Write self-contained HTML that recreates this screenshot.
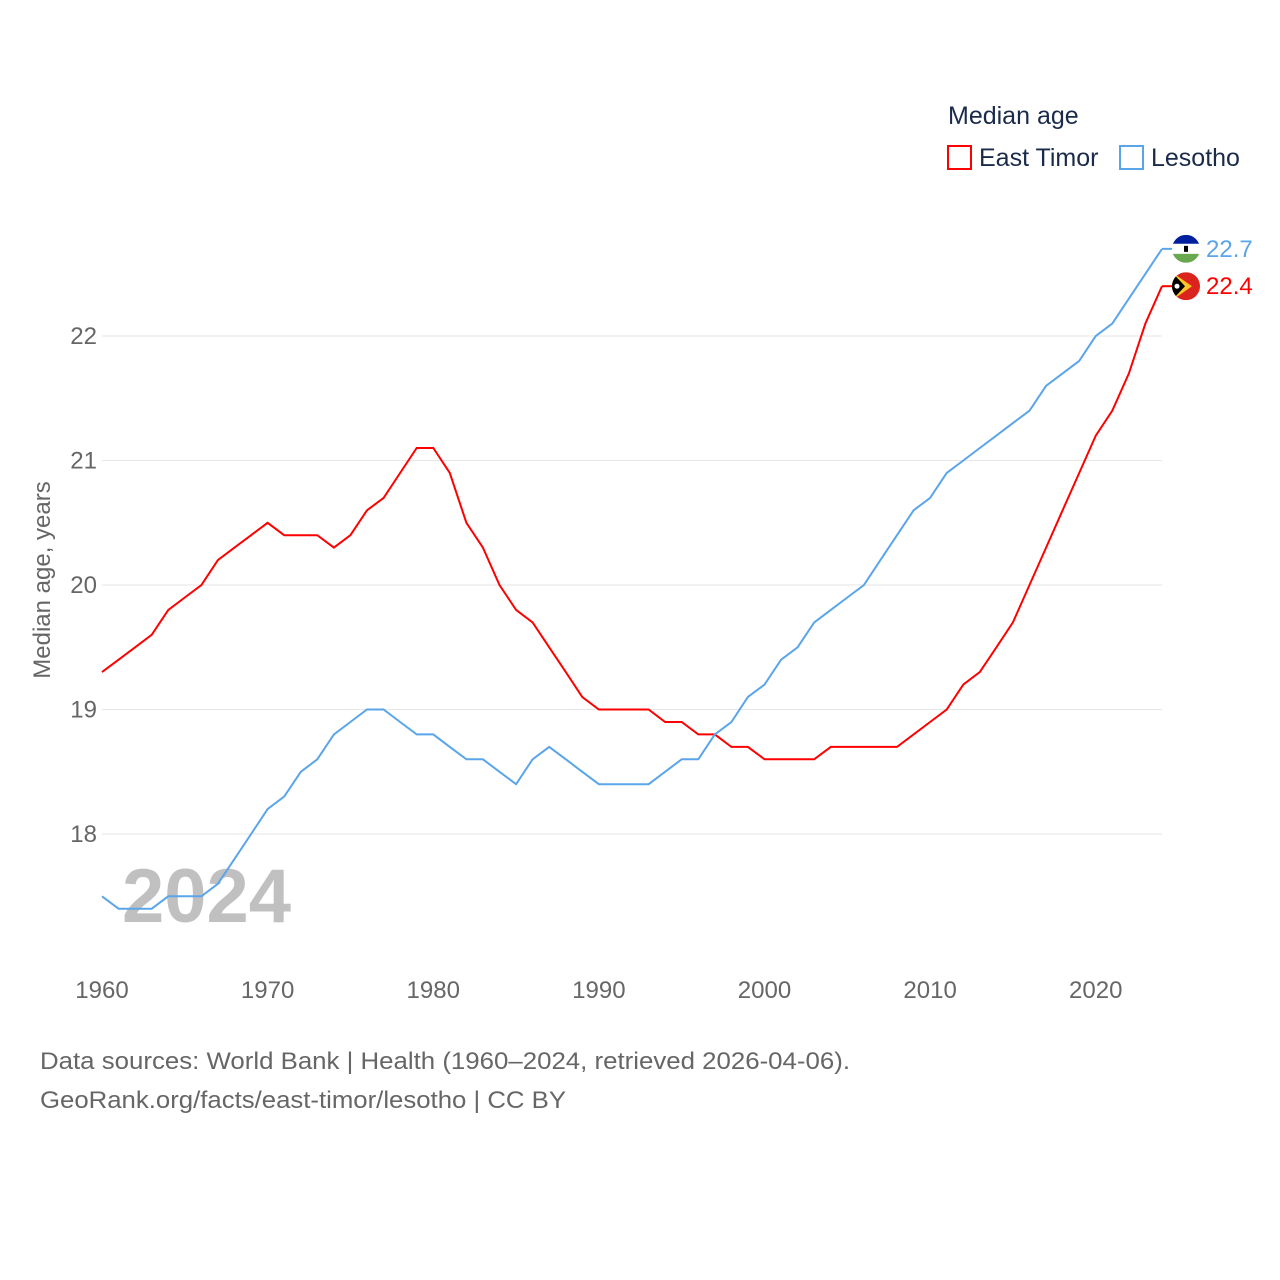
<!DOCTYPE html>
<html><head><meta charset="utf-8">
<style>
html,body{margin:0;padding:0;background:#fff;width:1280px;height:1280px;overflow:hidden;font-family:"Liberation Sans",sans-serif;}
</style></head>
<body>
<svg id="chart" width="1280" height="1280" xmlns="http://www.w3.org/2000/svg" font-family="Liberation Sans, sans-serif">
<g id="grid"></g>
<text x="122" y="922" font-size="76" font-weight="bold" fill="#c0c0c0">2024</text>
<g id="series"></g>
<text transform="translate(50,580) rotate(-90)" text-anchor="middle" font-size="24" fill="#666">Median age, years</text>
<g>
<text x="948" y="124" font-size="25" fill="#1a2a4a">Median age</text>
<g><rect x="948" y="146" width="23" height="23" fill="none" stroke="#f00" stroke-width="2"/><text x="979" y="166" font-size="25" fill="#1a2a4a">East Timor</text></g>
<g><rect x="1120" y="146" width="23" height="23" fill="none" stroke="#5aa5ea" stroke-width="2"/><text x="1151" y="166" font-size="25" fill="#1a2a4a">Lesotho</text></g>
</g>
<text x="40" y="1069" font-size="24" fill="#666" textLength="810" lengthAdjust="spacingAndGlyphs">Data sources: World Bank | Health (1960–2024, retrieved 2026-04-06).</text>
<text x="40" y="1108" font-size="24" fill="#666" textLength="526" lengthAdjust="spacingAndGlyphs">GeoRank.org/facts/east-timor/lesotho | CC BY</text>
</svg>
<script>
const years = [];
for (let y = 1960; y <= 2024; y++) years.push(y);
const eastTimor = [19.3,19.4,19.5,19.6,19.8,19.9,20.0,20.2,20.3,20.4,20.5,20.4,20.4,20.4,20.3,20.4,20.6,20.7,20.9,21.1,21.1,20.9,20.5,20.3,20.0,19.8,19.7,19.5,19.3,19.1,19.0,19.0,19.0,19.0,18.9,18.9,18.8,18.8,18.7,18.7,18.6,18.6,18.6,18.6,18.7,18.7,18.7,18.7,18.7,18.8,18.9,19.0,19.2,19.3,19.5,19.7,20.0,20.3,20.6,20.9,21.2,21.4,21.7,22.1,22.4];
const lesotho = [17.5,17.4,17.4,17.4,17.5,17.5,17.5,17.6,17.8,18.0,18.2,18.3,18.5,18.6,18.8,18.9,19.0,19.0,18.9,18.8,18.8,18.7,18.6,18.6,18.5,18.4,18.6,18.7,18.6,18.5,18.4,18.4,18.4,18.4,18.5,18.6,18.6,18.8,18.9,19.1,19.2,19.4,19.5,19.7,19.8,19.9,20.0,20.2,20.4,20.6,20.7,20.9,21.0,21.1,21.2,21.3,21.4,21.6,21.7,21.8,22.0,22.1,22.3,22.5,22.7];
const yTicks = [18,19,20,21,22];
const xTicks = [1960,1970,1980,1990,2000,2010,2020];
const NS = "http://www.w3.org/2000/svg";
function xs(v){return 102 + (v-1960)*(1060/64);}
function ys(v){return 336 + (22-v)*124.5;}
const grid = document.getElementById('grid');
yTicks.forEach(t=>{
  const l=document.createElementNS(NS,'line');
  
  
  l.setAttribute('x1',102);l.setAttribute('x2',1162);l.setAttribute('y1',ys(t));l.setAttribute('y2',ys(t));
  l.setAttribute('stroke','#e6e6e6');l.setAttribute('stroke-width','1');
  grid.appendChild(l);
  const tx=document.createElementNS(NS,'text');
  
  
  tx.setAttribute('x',97);tx.setAttribute('y',ys(t)+8);tx.setAttribute('text-anchor','end');
  tx.setAttribute('font-size','24');tx.setAttribute('fill','#666');tx.textContent=t;
  grid.appendChild(tx);
});
xTicks.forEach(t=>{
  const tx=document.createElementNS(NS,'text');
  
  
  tx.setAttribute('x',xs(t));tx.setAttribute('y',998);tx.setAttribute('text-anchor','middle');
  tx.setAttribute('font-size','24');tx.setAttribute('fill','#666');tx.textContent=t;
  grid.appendChild(tx);
});
const series=document.getElementById('series');
function drawLine(vals,color,name){
  const p=document.createElementNS(NS,'path');
  
  
  p.setAttribute('d',vals.map((v,i)=>(i?'L':'M')+xs(years[i]).toFixed(1)+','+ys(v).toFixed(1)).join(''));
  p.setAttribute('fill','none');p.setAttribute('stroke',color);p.setAttribute('stroke-width','2');
  series.appendChild(p);
  const last=vals[vals.length-1];
  const e=document.createElementNS(NS,'line');
  
  
  e.setAttribute('x1',xs(2024));e.setAttribute('x2',xs(2024)+10);e.setAttribute('y1',ys(last));e.setAttribute('y2',ys(last));
  e.setAttribute('stroke',color);e.setAttribute('stroke-width','2');
  series.appendChild(e);
  const lb=document.createElementNS(NS,'text');
  
  
  lb.setAttribute('x',1206);lb.setAttribute('y',ys(last)+8);lb.setAttribute('font-size','24');lb.setAttribute('fill',color);
  lb.textContent=last.toFixed(1);
  series.appendChild(lb);
}
drawLine(eastTimor,'#ff0000','east-timor-line');
drawLine(lesotho,'#5aa5ea','lesotho-line');
const ly=ys(lesotho[lesotho.length-1]), ey=ys(eastTimor[eastTimor.length-1]);
const fl=document.createElementNS(NS,'g');


fl.innerHTML=
 '<clipPath id="c1"><circle cx="1186" cy="'+ly+'" r="14"/></clipPath>'+
 '<g clip-path="url(#c1)"><rect x="1172" y="'+(ly-14)+'" width="28" height="9" fill="#00209f"/><rect x="1172" y="'+(ly-5)+'" width="28" height="10" fill="#fff"/><rect x="1172" y="'+(ly+5)+'" width="28" height="9" fill="#6aa84f"/><rect x="1184" y="'+(ly-3)+'" width="4" height="6" fill="#000"/></g>'+
 '<clipPath id="c2"><circle cx="1186" cy="'+ey+'" r="14"/></clipPath>'+
 '<g clip-path="url(#c2)"><rect x="1172" y="'+(ey-14)+'" width="28" height="28" fill="#dc241f"/><polygon points="1172,'+(ey-14)+' 1192,'+ey+' 1172,'+(ey+14)+'" fill="#ffc726"/><polygon points="1172,'+(ey-14)+' 1185,'+ey+' 1172,'+(ey+14)+'" fill="#000"/><circle cx="1177" cy="'+ey+'" r="2.5" fill="#fff"/></g>';
series.appendChild(fl);
</script>
</body></html>
